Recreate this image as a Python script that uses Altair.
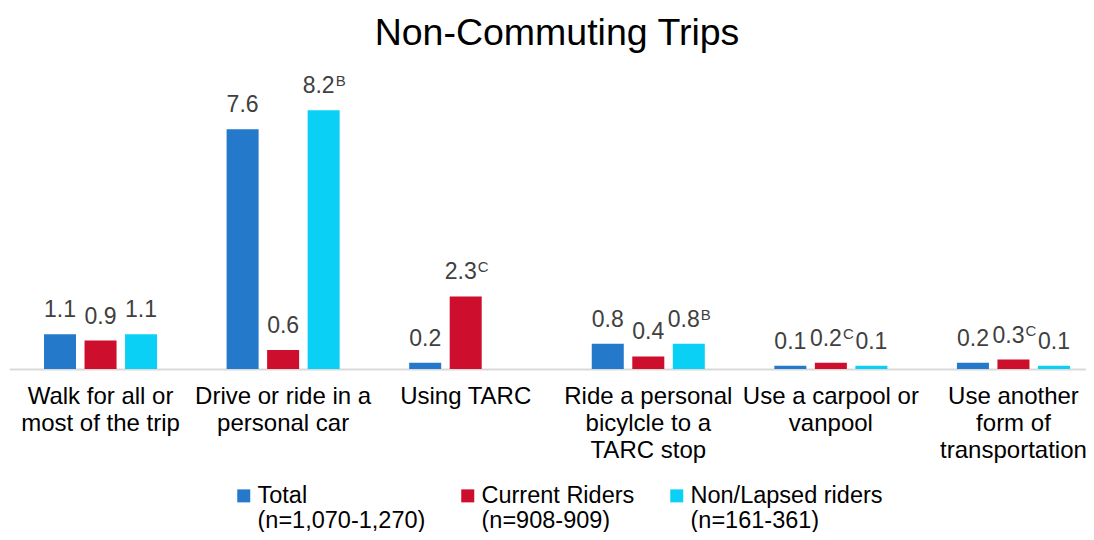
import altair as alt
import pandas as pd

categories = [
    "Walk for all or\nmost of the trip",
    "Drive or ride in a\npersonal car",
    "Using TARC",
    "Ride a personal\nbicylcle to a\nTARC stop",
    "Use a carpool or\nvanpool",
    "Use another\nform of\ntransportation",
]
series = [
    "Total\n(n=1,070-1,270)",
    "Current Riders\n(n=908-909)",
    "Non/Lapsed riders\n(n=161-361)",
]
total = [1.1, 7.6, 0.2, 0.8, 0.1, 0.2]
current = [0.9, 0.6, 2.3, 0.4, 0.2, 0.3]
nonlapsed = [1.1, 8.2, None, 0.8, 0.1, 0.1]
sup_total = ["", "", "", "", "", ""]
sup_current = ["", "", "C", "", "C", "C"]
sup_nonlapsed = ["", "B", "", "B", "", ""]
colors = ["#2479CB", "#CE0E2D", "#0BD0F5"]

rows = []
for vals, sups, s in zip([total, current, nonlapsed], [sup_total, sup_current, sup_nonlapsed], series):
    for c, v, sp in zip(categories, vals, sups):
        if v is None:
            continue
        rows.append({"category": c, "series": s, "value": v, "label": f"{v:.1f}", "sup": sp})
df = pd.DataFrame(rows)

FONT = "Liberation Sans"

x = alt.X(
    "category:N",
    sort=categories,
    title=None,
    scale=alt.Scale(range=[1.25, 1096.75], paddingInner=0, paddingOuter=0),
    axis=alt.Axis(
        labelExpr="split(datum.label, '\\n')",
        labelAngle=0,
        labelFontSize=24,
        labelFont=FONT,
        labelColor="#000000",
        labelLineHeight=27,
        labelPadding=15,
        labelLimit=0,
        ticks=False,
        domainColor="#D9D9D9",
        domainWidth=2,
        grid=False,
    ),
)
xo = alt.XOffset("series:N", sort=series, scale=alt.Scale(paddingInner=0.21, paddingOuter=0.858))
y = alt.Y("value:Q", scale=alt.Scale(domain=[0, 9]), axis=None)

base = alt.Chart(df)

bars = base.mark_bar().encode(
    x=x,
    xOffset=xo,
    y=y,
    color=alt.Color(
        "series:N",
        sort=series,
        scale=alt.Scale(domain=series, range=colors),
        legend=alt.Legend(
            title=None,
            orient="none",
            legendX=224,
            legendY=399,
            direction="horizontal",
            columns=3,
            columnPadding=30,
            symbolType="square",
            symbolSize=169,
            symbolStrokeWidth=0,
            labelFontSize=23.5,
            labelFont=FONT,
            labelColor="#000000",
            labelLimit=0,
            labelOffset=2,
            labelExpr="split(datum.label, '\\n')",
            labelBaseline="middle",
        ),
    ),
)

plain = base.transform_filter("datum.sup == ''").mark_text(
    fontSize=23, font=FONT, color="#404040", baseline="alphabetic", dy=-17
).encode(x=x, xOffset=xo, y=y, text="label:N")

supmain = base.transform_filter("datum.sup != ''").mark_text(
    fontSize=23, font=FONT, color="#404040", baseline="alphabetic", dy=-17, dx=-5
).encode(x=x, xOffset=xo, y=y, text="label:N")

supchar = base.transform_filter("datum.sup != ''").mark_text(
    fontSize=15, font=FONT, color="#404040", baseline="alphabetic", align="left", dy=-24, dx=12
).encode(x=x, xOffset=xo, y=y, text="sup:N")

chart = (
    alt.layer(bars, plain, supmain, supchar)
    .properties(
        width=1078,
        height=284,
        autosize=alt.AutoSizeParams(type="none"),
        padding={"left": 0, "top": 77, "right": 0, "bottom": 163},
        title=alt.Title(
            "Non-Commuting Trips",
            fontSize=37.5,
            font=FONT,
            fontWeight="normal",
            color="#000000",
            anchor="middle",
            dx=10,
            offset=22,
        ),
    )
    .configure_view(stroke=None)
)

chart.save("out.html", embed_options={"renderer": "svg", "actions": False})
